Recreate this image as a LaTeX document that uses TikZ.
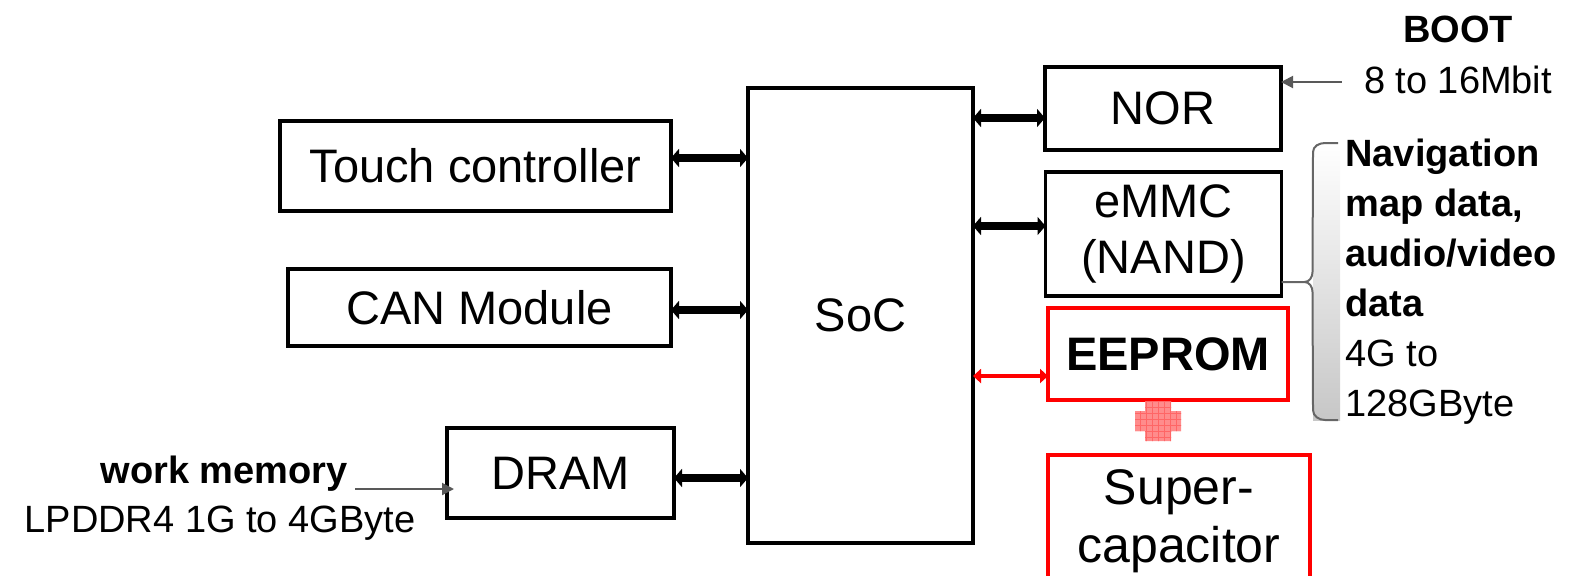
\documentclass[tikz,border=0pt]{standalone}
\usepackage{fontspec}
\setmainfont{Liberation Sans}
\usetikzlibrary{arrows.meta,positioning,patterns}

\begin{document}
\begin{tikzpicture}[x=0.5pt,y=-0.5pt, node distance=2pt,
  blk/.style={draw,line width=1.8pt,inner sep=0pt,outer sep=0pt,align=center,font=\fontsize{23.5}{28}\selectfont},
  redblk/.style={blk,draw=red,line width=1.6pt},
  lbl/.style={inner sep=0pt,align=left,font=\fontsize{19}{25}\selectfont},
  bus/.style={{Triangle[length=4pt,width=9pt]}-{Triangle[length=4pt,width=9pt]},line width=3.6pt},
  redbus/.style={{Triangle[length=4pt,width=7pt]}-{Triangle[length=4pt,width=7pt]},line width=2.4pt,draw=red,fill=red},
  ptr/.style={-{Triangle[length=6pt,width=6pt]},line width=1pt,draw=black!65,fill=black!65}]
\clip (0,0) rectangle (1572,575);
\node[blk,line width=2.3pt,minimum width=112.5pt,minimum height=227.5pt] (soc) at (860.5,315.5) {SoC};
\node[blk,minimum width=195.5pt,minimum height=45pt] (touch) at (475.5,166) {Touch controller};
\node[blk,minimum width=191.5pt,minimum height=38.5pt] (can) at (479.5,307.5) {CAN Module};
\node[blk,minimum width=113.5pt,minimum height=45pt] (dram) at (560.5,473) {DRAM};
\node[blk,minimum width=118pt,minimum height=41.5pt] (nor) at (1163,108.5) {NOR};
\node[blk,minimum width=118pt,minimum height=62pt] (emmc) at (1163.5,234) {eMMC\\(NAND)};
\node[redblk,minimum width=120pt,minimum height=46pt,font=\fontsize{23.5}{28}\selectfont\bfseries] (eeprom) at (1168,354) {EEPROM};
\node[redblk,minimum width=131pt,minimum height=66pt,font=\fontsize{25}{29}\selectfont] (supcap) at (1179,521) {Super-\\capacitor};
% labels
\node[lbl] (mbit) at (1458,80) {8 to 16Mbit};
\node[lbl,font=\fontsize{19}{25}\selectfont\bfseries,above=11pt of mbit] (boot) {BOOT};
\node[lbl,anchor=west] (nav) at (1345,281.5) {\textbf{Navigation}\\\textbf{map data,}\\\textbf{audio/video}\\\textbf{data}\\4G to\\128GByte};
\node[lbl,anchor=east,font=\fontsize{19}{25}\selectfont\bfseries] (wm) at (348,474) {work memory};
\node[lbl] (lp) at (220,523) {LPDDR4 1G to 4GByte};
% buses
\draw[bus] ([yshift=4pt]touch.east) -- ([yshift=4pt]touch.east -| soc.west);
\draw[bus] ([yshift=-1.25pt]can.east) -- ([yshift=-1.25pt]can.east -| soc.west);
\draw[bus] ([yshift=-2.5pt]dram.east) -- ([yshift=-2.5pt]dram.east -| soc.west);
\draw[bus] ([yshift=-4.75pt]nor.west) -- ([yshift=-4.75pt]nor.west -| soc.east);
\draw[bus] ([yshift=4pt]emmc.west) -- ([yshift=4pt]emmc.west -| soc.east);
\draw[redbus] ([yshift=-11pt]eeprom.west) -- ([yshift=-11pt]eeprom.west -| soc.east);
\draw[ptr] ([xshift=-11pt,yshift=-1pt]mbit.west) -- ([yshift=-1pt]mbit.west -| nor.east);
\draw[ptr] ([xshift=3.5pt,yshift=-7.5pt]wm.east) -- ([xshift=3.5pt,yshift=-7.5pt]wm.east -| dram.west);
% brace
\shade[top color=white,bottom color=black!22] (1313,143) rectangle (1340,420);
\draw[black!60,line width=1pt] ([yshift=-24pt]emmc.east) -- ++(23,0) to[out=0,in=90] ++(8,10) -- (1313,410) to[out=-90,in=180] (1325,420) -- (1338,420);
\draw[black!60,line width=1pt] ([yshift=-24pt]emmc.east) ++(23,0) to[out=0,in=-90] ++(8,-10) -- (1313,152) to[out=90,in=180] (1325,143) -- (1338,143);
% plus between EEPROM and Super-capacitor
\fill[red!45] (1145,401) -- (1171,401) -- (1171,411) -- (1181,411) -- (1181,431) -- (1171,431) -- (1171,441) -- (1145,441) -- (1145,431) -- (1135,431) -- (1135,411) -- (1145,411) -- cycle;
\fill[pattern=grid,pattern color=red!60] (1145,401) -- (1171,401) -- (1171,411) -- (1181,411) -- (1181,431) -- (1171,431) -- (1171,441) -- (1145,441) -- (1145,431) -- (1135,431) -- (1135,411) -- (1145,411) -- cycle;
\end{tikzpicture}
\end{document}
